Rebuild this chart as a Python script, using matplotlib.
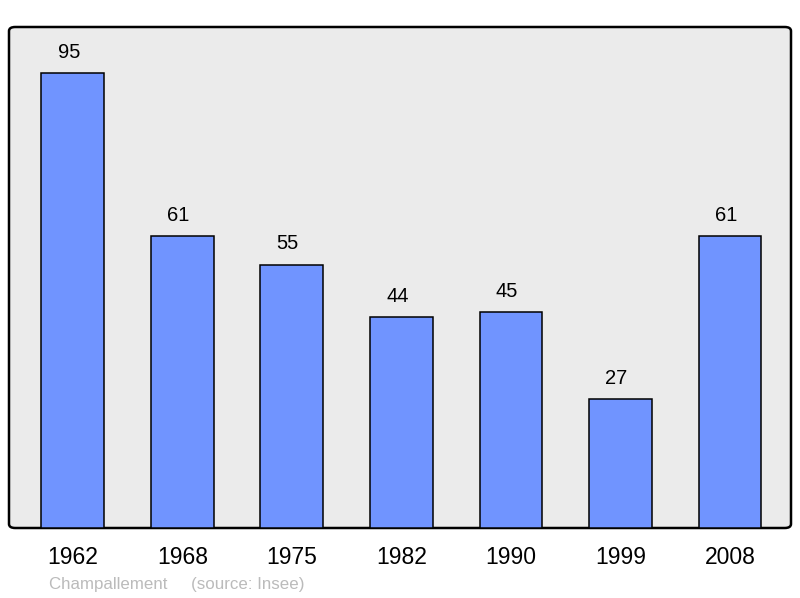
import numpy as np
import matplotlib.pyplot as plt
from matplotlib.patches import FancyBboxPatch

years = ["1962", "1968", "1975", "1982", "1990", "1999", "2008"]
population = [95, 61, 55, 44, 45, 27, 61]

plt.rcParams['font.family'] = ['Liberation Sans', 'DejaVu Sans']

fig = plt.figure(figsize=(8, 5.98), dpi=100)
ax = fig.add_axes([9/800, 1-528/598, 782/800, 501/598])
ax.set_xlim(-0.584, len(years) - 1 + 0.557)
ax.set_ylim(0, 104.6)
ax.patch.set_visible(False)
for s in ax.spines.values():
    s.set_visible(False)

# rounded frame like the original
frame = FancyBboxPatch((0, 0), 1, 1, boxstyle="round,pad=0,rounding_size=0.008",
                       transform=ax.transAxes, facecolor="#ebebeb", edgecolor="black",
                       linewidth=1.8, zorder=0, clip_on=False)
ax.add_patch(frame)

x = np.arange(len(years))
ax.bar(x, population, width=0.575, color="#7094ff", edgecolor="black", linewidth=1.1, zorder=2)
for xi, v in zip(x, population):
    ax.annotate(str(v), (xi, v), xytext=(-3, 8), textcoords="offset points",
                ha="center", va="bottom", fontsize=14.5)

ax.set_xticks(x)
ax.set_xticklabels(years, fontsize=16.5)
ax.tick_params(axis="x", length=0, pad=13)
ax.set_yticks([])

fig.text(49/800, 1-584/598, "Champallement     (source: Insee)", color="#bbbbbb",
         fontsize=12.2, ha="left", va="center")

fig.savefig("out.png", dpi=100)
